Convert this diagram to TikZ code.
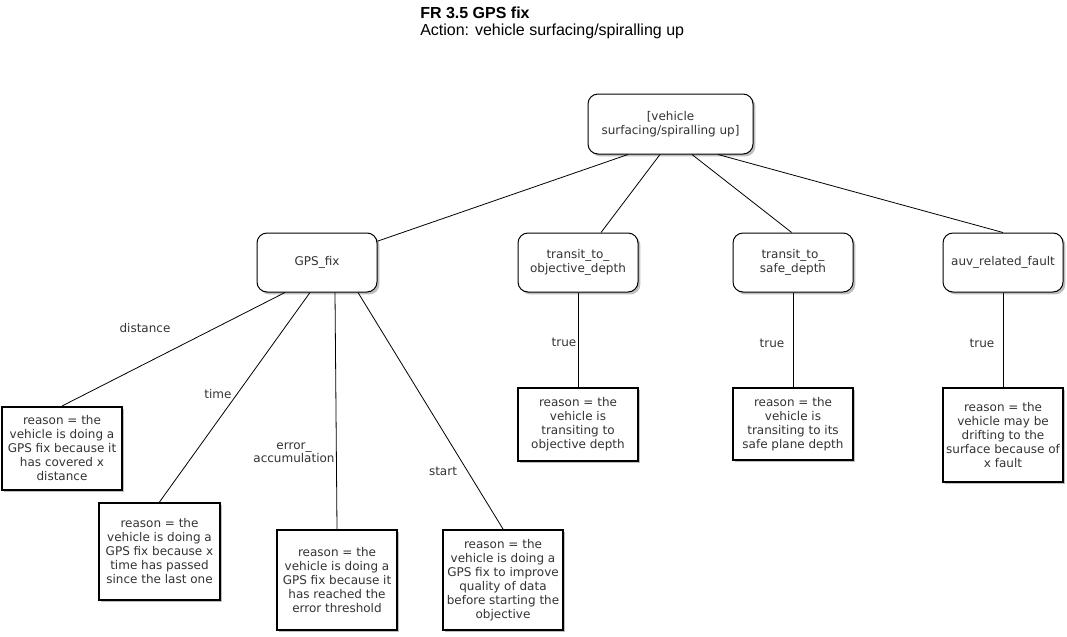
\documentclass[tikz,border=0pt]{standalone}
\usepackage{fontspec}
\setmainfont{DejaVu Sans}
\newfontfamily\titlefont{Liberation Sans}
\usetikzlibrary{shadows,calc}
\begin{document}
\begin{tikzpicture}[x=0.75pt,y=-0.75pt,
  shade/.style={drop shadow={shadow xshift=1.8pt,shadow yshift=-1.8pt,fill=black,opacity=0.25}},
  decision/.style={draw=black,fill=white,rounded corners=7.5pt,line width=0.75pt,minimum width=90pt,minimum height=44.25pt,align=center,font=\fontsize{9}{10.5}\selectfont,text=black!80,inner sep=1pt,shade},
  leaf/.style={draw=black,fill=white,line width=1.5pt,minimum width=90pt,align=center,font=\fontsize{9}{10.5}\selectfont,text=black!80,inner sep=1pt,shade},
  edge/.style={draw=black,line width=0.6pt},
  elabel/.style={font=\fontsize{9}{10}\selectfont,text=black!80,align=center,inner sep=0pt},
  titletext/.style={font=\titlefont,anchor=west,inner sep=0pt}]
\useasboundingbox[fill=white] (0,0) rectangle (1067,636);

% title
\node[titletext,font=\titlefont\bfseries\fontsize{12}{14}\selectfont] (t1) at (420,13) {FR 3.5 GPS fix};
\node[titletext,font=\titlefont\fontsize{12}{14}\selectfont] (t2) at (420,31) {Action: vehicle surfacing/spiralling up};

% decision nodes
\node[decision,minimum width=123.75pt,minimum height=45pt] (root) at (670.5,124) {[vehicle\\surfacing/spiralling up]};
\node[decision] (gps) at (317,262.5) {GPS\_fix};
\node[decision] (obj) at (578,262.5) {transit\_to\_\\objective\_depth};
\node[decision] (safe) at (793,262.5) {transit\_to\_\\safe\_depth};
\node[decision] (auv) at (1003,262.5) {auv\_related\_fault};

% leaves
\node[leaf,minimum height=62.25pt] (ldist) at (62,448.5) {reason = the\\vehicle is doing a\\GPS fix because it\\has covered x\\distance};
\node[leaf,minimum width=90.75pt,minimum height=72.75pt] (ltime) at (159.5,551.5) {reason = the\\vehicle is doing a\\GPS fix because x\\time has passed\\since the last one};
\node[leaf,minimum height=75pt] (lerr) at (337,580) {reason = the\\vehicle is doing a\\GPS fix because it\\has reached the\\error threshold};
\node[leaf,minimum height=75pt] (lstart) at (503,580) {reason = the\\vehicle is doing a\\GPS fix to improve\\quality of data\\before starting the\\objective};
\node[leaf,minimum height=54.75pt] (lobj) at (578,424.5) {reason = the\\vehicle is\\transiting to\\objective depth};
\node[leaf,minimum height=54pt] (lsafe) at (793,424) {reason = the\\vehicle is\\transiting to its\\safe plane depth};
\node[leaf,minimum height=70.5pt] (lauv) at (1003,435) {reason = the\\vehicle may be\\drifting to the\\surface because of\\x fault};

% edges from root
\draw[edge] ([xshift=-31.9pt]root.south) -- ([yshift=16pt]gps.east);
\draw[edge] ([xshift=-7.9pt]root.south) -- ([xshift=17.25pt]obj.north);
\draw[edge] ([xshift=16.1pt]root.south) -- ([xshift=-1pt]safe.north);
\draw[edge] ([xshift=35.6pt]root.south) -- (auv.north);

% edges from GPS_fix
\draw[edge] ([xshift=-24pt]gps.south) -- (ldist.north);
\draw[edge] ([xshift=-5.25pt]gps.south) -- (ltime.north);
\draw[edge] ([xshift=13.5pt]gps.south) -- (lerr.north);
\draw[edge] ([xshift=30.75pt]gps.south) -- (lstart.north);

% true edges
\draw[edge] (obj.south) -- (lobj.north);
\draw[edge] (safe.south) -- (lsafe.north);
\draw[edge] (auv.south) -- (lauv.north);

% edge labels
\node[elabel] (bdist) at (145,328) {distance};
\node[elabel] (btime) at (218,394) {time};
\node[elabel] (berr) at (294,453) {error\_\\accumulation};
\node[elabel] (bstart) at (443,471) {start};
\node[elabel] (bt1) at (564,342) {true};
\node[elabel] (bt2) at (772,343) {true};
\node[elabel] (bt3) at (982,343) {true};
\end{tikzpicture}
\end{document}
